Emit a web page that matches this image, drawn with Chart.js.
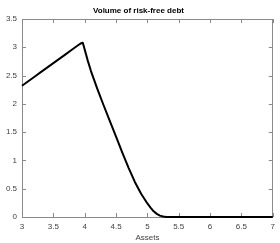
<!DOCTYPE html>
<html>
<head>
<meta charset="utf-8">
<script src="https://cdn.jsdelivr.net/npm/chart.js@4"></script>
<style>
  html, body { margin: 0; padding: 0; background: #fff; }
  #wrap { width: 280px; height: 243px; }
</style>
</head>
<body>
<div id="wrap"><canvas id="debtChart" width="280" height="243"></canvas></div>
<script>
// values
const assets = [3.0, 3.1, 3.2, 3.3, 3.4, 3.5, 3.6, 3.7, 3.8, 3.85, 3.9, 3.94, 3.97,
                4.05, 4.1, 4.2, 4.3, 4.4, 4.5, 4.6, 4.7, 4.8, 4.9, 5.0, 5.05, 5.1, 5.15, 5.2, 5.25, 5.3, 5.4,
                5.6, 6.0, 6.5, 7.0];
const riskFreeDebt = [2.32, 2.40, 2.48, 2.56, 2.64, 2.72, 2.80, 2.88, 2.96, 3.00, 3.04, 3.07, 3.08,
                      2.76, 2.58, 2.27, 1.98, 1.70, 1.42, 1.14, 0.87, 0.62, 0.41, 0.24, 0.165, 0.10, 0.055, 0.025, 0.008, 0.002, 0,
                      0, 0, 0, 0];
const xTicks = [3, 3.5, 4, 4.5, 5, 5.5, 6, 6.5, 7];
const yTicks = [0, 0.5, 1, 1.5, 2, 2.5, 3, 3.5];

const axisGrey = '#8a8a8a';
const labelGrey = '#404040';

// MATLAB-like box with ticks pointing inward
const boxPlugin = {
    id: 'boxPlugin',
    beforeDatasetsDraw(chart) {
        const { ctx, chartArea: a, scales: { x, y } } = chart;
        const len = 4;
        ctx.save();
        ctx.strokeStyle = axisGrey;
        ctx.lineWidth = 1;
        ctx.strokeRect(Math.round(a.left) + 0.5, Math.round(a.top) + 0.5,
                       Math.round(a.right - a.left) - 1, Math.round(a.bottom - a.top));
        ctx.beginPath();
        xTicks.forEach(v => {
            const px = Math.round(x.getPixelForValue(v)) + 0.5;
            ctx.moveTo(px, a.bottom); ctx.lineTo(px, a.bottom - len);
            ctx.moveTo(px, a.top); ctx.lineTo(px, a.top + len);
        });
        yTicks.forEach(v => {
            const py = Math.round(y.getPixelForValue(v)) + 0.5;
            ctx.moveTo(a.left, py); ctx.lineTo(a.left + len, py);
            ctx.moveTo(a.right, py); ctx.lineTo(a.right - len, py);
        });
        ctx.stroke();
        ctx.restore();
    }
};

const tickFont = { family: 'Liberation Sans', size: 8 };

const ctx = document.getElementById('debtChart').getContext('2d');
new Chart(ctx, {
    type: 'line',
    data: {
        datasets: [{
            data: assets.map((a, i) => ({ x: a, y: riskFreeDebt[i] })),
            borderColor: '#000',
            borderWidth: 2,
            pointRadius: 0,
            tension: 0,
            borderJoinStyle: 'round',
            fill: false,
            clip: false
        }]
    },
    options: {
        responsive: false,
        animation: false,
        layout: { padding: { left: 0, right: 3, top: 0, bottom: 0 } },
        plugins: {
            legend: { display: false },
            tooltip: { enabled: false },
            title: {
                display: true,
                text: 'Volume of risk-free debt',
                color: '#000',
                font: { family: 'Liberation Sans', size: 8, weight: 'bold' },
                padding: { top: 5.5, bottom: 3.9 }
            }
        },
        scales: {
            x: {
                type: 'linear',
                min: 3,
                max: 7,
                afterBuildTicks: s => { s.ticks = xTicks.map(v => ({ value: v })); },
                afterFit: s => { s.height = 26; },
                grid: { display: false, drawTicks: false },
                border: { display: false },
                ticks: { padding: 5, color: labelGrey, font: tickFont, callback: v => String(v) },
                title: {
                    display: true,
                    text: 'Assets',
                    color: labelGrey,
                    padding: { top: 0, bottom: 0 },
                    font: tickFont
                }
            },
            y: {
                min: 0,
                max: 3.5,
                afterBuildTicks: s => { s.ticks = yTicks.map(v => ({ value: v })); },
                afterFit: s => { s.width = 22; },
                grid: { display: false, drawTicks: false },
                border: { display: false },
                ticks: { padding: 5, color: labelGrey, font: tickFont, callback: v => String(v) }
            }
        }
    },
    plugins: [boxPlugin]
});
</script>
</body>
</html>
